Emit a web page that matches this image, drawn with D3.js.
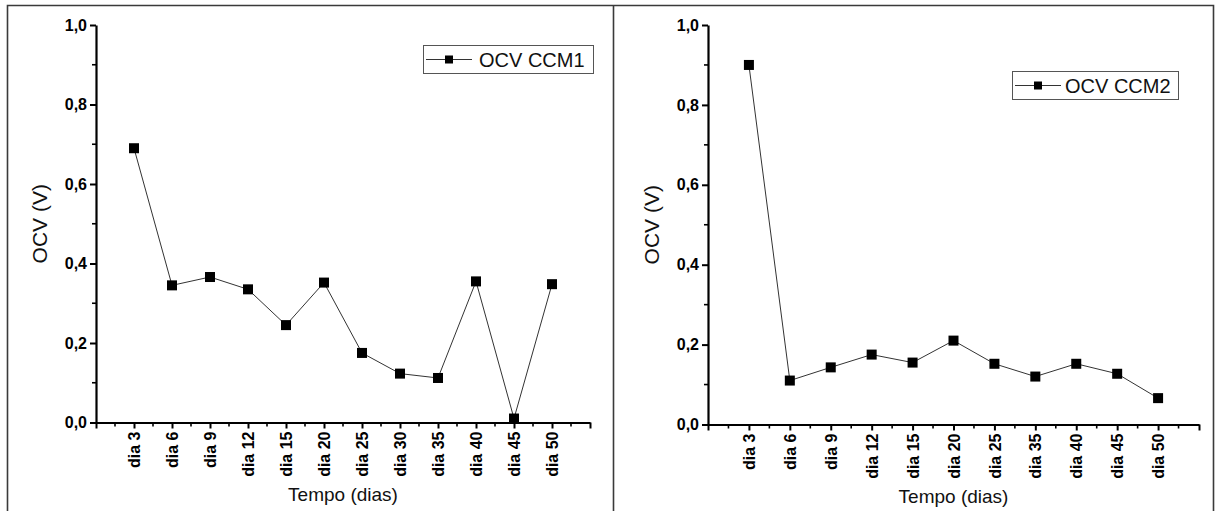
<!DOCTYPE html>
<html>
<head>
<meta charset="utf-8">
<script src="https://cdn.jsdelivr.net/npm/d3@7"></script>
<style>
  html, body { margin: 0; padding: 0; background: #fff; }
  svg { display: block; font-family: "Liberation Sans", Arial, sans-serif; }
</style>
</head>
<body>
<svg id="chart" width="1216" height="511"></svg>
<script>
// data
const daysCCM1 = ['dia 3', 'dia 6', 'dia 9', 'dia 12', 'dia 15', 'dia 20', 'dia 25', 'dia 30', 'dia 35', 'dia 40', 'dia 45', 'dia 50'];
const ocvCCM1 = [0.69, 0.345, 0.366, 0.335, 0.245, 0.352, 0.175, 0.123, 0.112, 0.355, 0.01, 0.348];

const daysCCM2 = ['dia 3', 'dia 6', 'dia 9', 'dia 12', 'dia 15', 'dia 20', 'dia 25', 'dia 35', 'dia 40', 'dia 45', 'dia 50'];
const ocvCCM2 = [0.90, 0.11, 0.143, 0.175, 0.155, 0.21, 0.152, 0.12, 0.152, 0.127, 0.066];

const yTicks = [0, 0.2, 0.4, 0.6, 0.8, 1.0];

(function () {

    const svg = d3.select('#chart');
    const font = '"Liberation Sans", Arial, sans-serif';
    const fmt = (v) => d3.format('.1f')(v).replace('.', ',');

    // outer frame (two table cells)
    svg.append('path')
        .attr('d', 'M7.5,520 V5.5 H1213.5 V520 M613.5,5.5 V520')
        .attr('fill', 'none')
        .attr('stroke', '#3a3a3a')
        .attr('stroke-width', 1.6);

    function drawPanel (opts) {
        const g = svg.append('g');
        const n = opts.days.length;

        const x = d3.scaleLinear().domain([0, n + 1]).range([opts.x0, opts.x1]);
        const y = d3.scaleLinear().domain([0, 1]).range([opts.y0, opts.y1]);

        // minor ticks
        const xMinor = d3.range(1, 2 * (n + 1), 2).map(d => d / 2);
        g.append('g').selectAll('line').data(xMinor).join('line')
            .attr('x1', d => x(d)).attr('x2', d => x(d))
            .attr('y1', opts.y0).attr('y2', opts.y0 + 4)
            .attr('stroke', '#000').attr('stroke-width', 1.6);
        const yMinor = [0.1, 0.3, 0.5, 0.7, 0.9];
        g.append('g').selectAll('line').data(yMinor).join('line')
            .attr('x1', opts.x0 - 4).attr('x2', opts.x0)
            .attr('y1', d => y(d)).attr('y2', d => y(d))
            .attr('stroke', '#000').attr('stroke-width', 1.6);

        // y axis
        const yAxis = g.append('g')
            .attr('transform', `translate(${opts.x0},0)`)
            .call(d3.axisLeft(y).tickValues(yTicks).tickFormat(fmt).tickSize(6).tickSizeOuter(0));
        yAxis.attr('font-family', font);
        yAxis.select('.domain').attr('stroke-width', 2.2);
        yAxis.selectAll('.tick line').attr('stroke-width', 2);
        yAxis.selectAll('.tick text')
            .attr('font-size', 16).attr('font-weight', 'bold').attr('x', -9);

        // x axis, one tick per sample, plus ticks at both ends
        const xAxis = g.append('g')
            .attr('transform', `translate(0,${opts.y0})`)
            .call(d3.axisBottom(x)
                .tickValues(d3.range(0, n + 2))
                .tickFormat(i => (i >= 1 && i <= n) ? opts.days[i - 1] : '')
                .tickSize(6).tickSizeOuter(0));
        xAxis.attr('font-family', font);
        xAxis.select('.domain').attr('stroke-width', 2.2);
        xAxis.selectAll('.tick line').attr('stroke-width', 2);
        xAxis.selectAll('.tick text')
            .attr('font-size', 16).attr('font-weight', 'bold')
            .attr('transform', 'rotate(-90)')
            .attr('text-anchor', 'end')
            .attr('x', -9).attr('y', 0).attr('dy', '0.35em');

        // axis titles
        g.append('text')
            .attr('x', (opts.x0 + opts.x1) / 2).attr('y', opts.y0 + 78)
            .attr('text-anchor', 'middle').attr('font-size', 19).attr('fill', '#111')
            .text('Tempo (dias)');
        g.append('text')
            .attr('transform', `translate(${opts.x0 - 56},${(opts.y0 + opts.y1) / 2}) rotate(-90)`)
            .attr('text-anchor', 'middle').attr('dy', '0.35em')
            .attr('font-size', 21).attr('fill', '#111')
            .text('OCV (V)');

        // series
        const pts = opts.values.map((v, i) => ({ i: i + 1, v: v }));
        g.append('path')
            .datum(pts)
            .attr('d', d3.line().x(d => x(d.i)).y(d => y(d.v)))
            .attr('fill', 'none').attr('stroke', '#333').attr('stroke-width', 1);
        g.append('g').selectAll('rect').data(pts).join('rect')
            .attr('x', d => x(d.i) - 5).attr('y', d => y(d.v) - 5)
            .attr('width', 10).attr('height', 10)
            .attr('fill', '#000');

        // legend
        const lg = g.append('g').attr('transform', `translate(${opts.legend[0]},${opts.legend[1]})`);
        lg.append('rect')
            .attr('x', 0.5).attr('y', 0.5).attr('width', opts.legend[2]).attr('height', 28)
            .attr('fill', '#fff').attr('stroke', '#555').attr('stroke-width', 1);
        lg.append('line')
            .attr('x1', 3).attr('x2', 49).attr('y1', 14.5).attr('y2', 14.5)
            .attr('stroke', '#333').attr('stroke-width', 1);
        lg.append('rect')
            .attr('x', 22).attr('y', 10.5).attr('width', 8).attr('height', 8).attr('fill', '#000');
        lg.append('text')
            .attr('x', opts.legend[3]).attr('y', 22)
            .attr('font-size', 20).attr('fill', '#111')
            .text(opts.label);
    }

    drawPanel({
        days: daysCCM1, values: ocvCCM1, label: 'OCV CCM1',
        x0: 96, x1: 590, y0: 422.5, y1: 25,
        legend: [423, 45, 170, 56]
    });

    drawPanel({
        days: daysCCM2, values: ocvCCM2, label: 'OCV CCM2',
        x0: 708, x1: 1199, y0: 424.5, y1: 25,
        legend: [1012, 71, 166, 53]
    });

})();
</script>
</body>
</html>
